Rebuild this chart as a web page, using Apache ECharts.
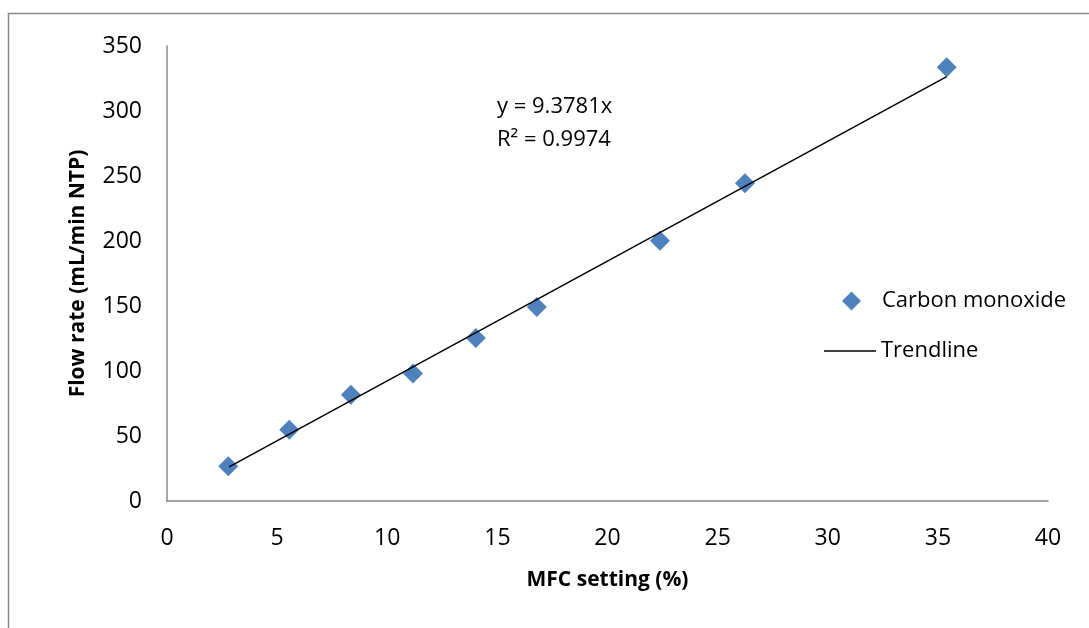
<!DOCTYPE html>
<html>
<head>
<meta charset="utf-8">
<script src="https://cdn.jsdelivr.net/npm/echarts@6/dist/echarts.min.js"></script>
<style>html,body{margin:0;padding:0;background:#fff}#c{width:1089px;height:628px}</style>
</head>
<body>
<div id="c"></div>
<script>
const mfcSetting = [2.78, 5.55, 8.35, 11.17, 14.02, 16.79, 22.38, 26.24, 35.4];
const flowRate = [26.7, 54.9, 81.8, 98.0, 125.4, 149.2, 200.2, 244.5, 333.6];
const trendX = [2.82, 35.4];
const trendY = [26.3, 326.4];
const xTicks = [0, 5, 10, 15, 20, 25, 30, 35, 40];
const yTicks = [0, 50, 100, 150, 200, 250, 300, 350];
const equationText = ['y = 9.3781x', 'R² = 0.9974'];

const FONT = '"Open Sans", sans-serif';
const chart = echarts.init(document.getElementById('c'));
chart.setOption({
  animation: false,
  backgroundColor: '#fff',
  grid: { left: 167, right: 41, top: 46, bottom: 127 },
  xAxis: {
    type: 'value', min: xTicks[0], max: xTicks[xTicks.length - 1], interval: 5,
    name: 'MFC setting (%)', nameLocation: 'middle', nameGap: 69,
    nameTextStyle: { fontFamily: FONT, fontSize: 21, fontWeight: 'bold', color: '#000' },
    axisLine: { lineStyle: { color: '#878787', width: 1.5 } },
    axisTick: { show: false },
    splitLine: { show: false },
    axisLabel: { fontFamily: FONT, fontSize: 23, color: '#000', margin: 26 }
  },
  yAxis: {
    type: 'value', min: yTicks[0], max: yTicks[yTicks.length - 1], interval: 50,
    name: 'Flow rate (mL/min NTP)', nameLocation: 'middle', nameGap: 78,
    nameTextStyle: { fontFamily: FONT, fontSize: 21, fontWeight: 'bold', color: '#000' },
    axisLine: { show: true, lineStyle: { color: '#878787', width: 1.5 } },
    axisTick: { show: false },
    splitLine: { show: false },
    axisLabel: { fontFamily: FONT, fontSize: 23, color: '#000', margin: 25 }
  },
  legend: [
    {
      data: [{ name: 'Carbon monoxide', icon: 'diamond' }], left: 842, top: 290, padding: 0,
      itemWidth: 19, itemHeight: 19,
      itemStyle: { color: '#4F81BD', opacity: 1 },
      textStyle: { fontFamily: FONT, fontSize: 22, color: '#000', padding: [0, 0, 0, 16] }
    },
    {
      data: [{ name: 'Trendline', icon: 'rect' }], left: 824, top: 340, padding: 0,
      itemWidth: 52, itemHeight: 1.5,
      itemStyle: { color: '#000' },
      textStyle: { fontFamily: FONT, fontSize: 22, color: '#000' }
    }
  ],
  graphic: [
    { type: 'rect', silent: true, shape: { x: 8.5, y: 13.5, width: 1200, height: 800 },
      style: { fill: 'none', stroke: '#898989', lineWidth: 1.5 } },
    { type: 'text', left: 497, top: 90,
      style: { text: equationText.join('\n'), fontFamily: FONT, fontSize: 22, lineHeight: 33, fill: '#000' } }
  ],
  series: [
    {
      name: 'Carbon monoxide', type: 'scatter', symbol: 'diamond', symbolSize: 20,
      itemStyle: { color: '#4F81BD', opacity: 1 }, z: 2,
      data: mfcSetting.map((x, i) => [x, flowRate[i]])
    },
    {
      name: 'Trendline', type: 'line', showSymbol: false, symbol: 'none',
      lineStyle: { color: '#000', width: 1.5 }, itemStyle: { color: '#000' }, z: 3,
      data: trendX.map((x, i) => [x, trendY[i]])
    }
  ]
});
</script>
</body>
</html>
